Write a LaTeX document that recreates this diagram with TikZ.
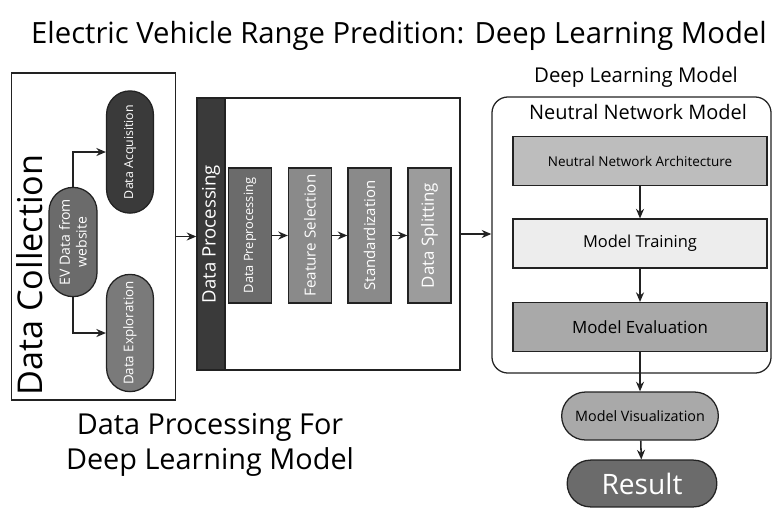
\documentclass[tikz,border=0pt]{standalone}
\usepackage{fontspec}
\setmainfont{Open Sans}
\usepackage{tikz}
\usetikzlibrary{positioning,arrows.meta,shapes.misc,calc}
\definecolor{ink}{HTML}{222222}
\definecolor{night}{HTML}{3A3A3A}
\definecolor{slate}{HTML}{6B6B6B}
\definecolor{steel}{HTML}{7A7A7A}
\definecolor{pewter}{HTML}{8A8A8A}
\definecolor{ash}{HTML}{9C9C9C}
\definecolor{cloud}{HTML}{BDBDBD}
\definecolor{mist}{HTML}{EDEDED}
\definecolor{silver}{HTML}{A9A9A9}
\newcommand{\fs}[1]{\fontsize{#1}{1.2\dimexpr#1pt\relax}\selectfont}
\tikzset{
  pill/.style={rounded rectangle,draw=ink,line width=0.9pt,rotate=90,
    text=white,align=center,minimum height=1.17cm,inner sep=1pt},
  stepbox/.style={rectangle,draw=ink,line width=0.9pt,rotate=90,
    text=white,minimum width=3.375cm,minimum height=1.075cm,inner sep=1pt},
  dlbox/.style={rectangle,draw=ink,line width=0.9pt,
    minimum width=6.35cm,minimum height=1.22cm},
  frame/.style={rectangle,draw=ink,line width=0.9pt},
  ar/.style={-{Stealth[length=2.4mm,width=2mm]},line width=1.1pt,draw=ink},
}
\begin{document}
\begin{tikzpicture}[x=0.025cm,y=-0.025cm]
  \useasboundingbox (0,0) rectangle (774,508);
  \node[font=\fs{20.8}] (title) at (399,36) {Electric Vehicle Range Predition: Deep Learning Model};
  % data collection
  \node[frame,minimum width=4.1cm,minimum height=8.175cm] (dcbox) at (93.5,236.5) {};
  \node[rotate=90,font=\fs{24.3}] (dclbl) at (30,275) {Data Collection};
  \node[pill,fill=slate,minimum width=2.8cm,minimum height=1.2cm,font=\fs{10}] (ev) at (73,242) {EV Data from\\website};
  \node[pill,fill=night,minimum width=3.125cm,font=\fs{8.8}] (acq) at (130,152) {Data Acquisition};
  \node[pill,fill=steel,minimum width=3cm,font=\fs{9.5}] (expl) at (130,333) {Data Exploration};
  \draw[ar] (ev.east) |- (acq.north);
  \draw[ar] (ev.west) |- (expl.north);
  % data processing
  \node[frame,minimum width=6.575cm,minimum height=6.8cm] (dpbox) at (328.5,234) {};
  \node[rectangle,fill=night,draw=ink,line width=0.9pt,rotate=90,minimum width=6.8cm,minimum height=0.7cm,
    text=white,font=\fs{13.2}] (dpbar) at (211,234) {Data Processing};
  \node[stepbox,fill=slate,font=\fs{9.1}] (prep) at (250,235.5) {Data Preprocessing};
  \node[stepbox,fill=pewter,font=\fs{10.8}] (feat) at (310,235.5) {Feature Selection};
  \node[stepbox,fill=pewter,font=\fs{10.6}] (std) at (369.5,235.5) {Standardization};
  \node[stepbox,fill=ash,font=\fs{12}] (split) at (429.5,235.5) {Data Splitting};
  \draw[ar] (prep) -- (feat);
  \draw[ar] (feat) -- (std);
  \draw[ar] (std) -- (split);
  \draw[ar] (dcbox.east) -- (dcbox.east -| dpbox.west);
  \node[align=center,font=\fs{20.5}] (dplbl) at (210,445) {Data Processing For\\Deep Learning Model};
  % deep learning model
  \node[font=\fs{14.5}] (dltitle) at (636,77) {Deep Learning Model};
  \node[frame,rounded corners=0.4cm,minimum width=6.975cm,minimum height=6.9cm] (dlbox) at (631.5,235) {};
  \node[font=\fs{14.2}] (nnlbl) at (638,112) {Neutral Network Model};
  \node[dlbox,fill=cloud,font=\fs{9.6}] (arch) at (640,161) {Neutral Network Architecture};
  \node[dlbox,fill=mist,font=\fs{11.7}] (train) at (640,243.5) {Model Training};
  \node[dlbox,fill=silver,font=\fs{12}] (eval) at (640,327) {Model Evaluation};
  \node[rounded rectangle,draw=ink,line width=0.9pt,fill=silver,minimum width=4.15cm,minimum height=1.2cm,
    font=\fs{10.2}] (vis) at (640,416) {Model Visualization};
  \node[rounded rectangle,draw=ink,line width=0.9pt,fill=slate,text=white,minimum width=3.975cm,
    minimum height=1.17cm,font=\fs{20}] (res) at (642,483.5) {Result};
  \draw[ar] (dpbox.east) -- (dpbox.east -| dlbox.west);
  \draw[ar] (arch) -- (train);
  \draw[ar] (train) -- (eval);
  \draw[ar] (eval) -- (vis);
  \draw[ar] (vis) -- (res);
\end{tikzpicture}
\end{document}
